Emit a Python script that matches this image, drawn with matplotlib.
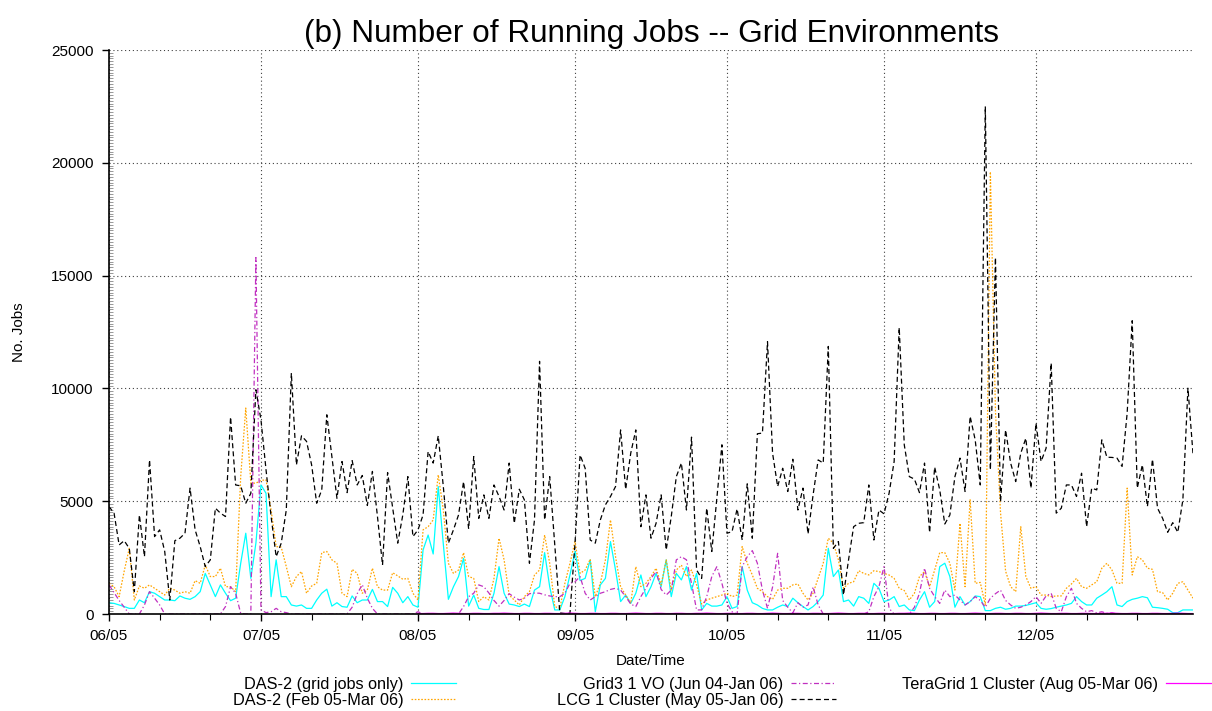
import pandas as pd
import matplotlib
matplotlib.use('Agg')
import matplotlib.pyplot as plt
import matplotlib.dates as mdates
from matplotlib.ticker import MultipleLocator

plt.rcParams['font.family'] = ['Liberation Sans', 'DejaVu Sans']

# daily number of running jobs, one value per day from 2005-06-01
start = '2005-06-01'

das2_grid = [
    500, 470, 400, 330, 250, 250, 620, 500, 990, 920, 770, 620, 620, 590, 800, 700, 650, 770, 990, 1800,
    1290, 770, 1290, 920, 590, 700, 2250, 3580, 1580, 3140, 5720, 5350, 770, 2400, 770, 770, 400, 350, 400, 250,
    250, 620, 920, 1100,
    350, 500, 330, 300, 800, 500, 620, 620, 1090, 550, 550, 330, 1180, 920, 500, 770, 400, 300, 2840, 3500,
    2660, 5650, 3100, 650, 1210, 1660, 2470, 350, 840, 250, 200, 200, 920, 2100, 920, 440, 400, 330, 440, 330,
    1060, 1210,
    2720, 1210, 180, 180, 770, 1730, 2770, 1480, 1580, 2400, 100, 1290, 1580, 3210, 1950, 550, 840, 470, 920, 1730,
    770, 1210, 1800, 1210, 2400, 770, 1800, 1510, 2100, 1060, 1800, 180, 470, 350, 350, 400, 770, 250, 330, 2100,
    1060, 500, 400,
    250, 180, 180, 300, 400, 330, 700, 500, 330, 180, 330, 550, 840, 2910, 1660, 1950, 550, 620, 350, 770,
    700, 470, 1360, 1140, 550, 620, 770, 330, 400, 180, 150, 620, 990, 300, 550, 2100, 2250, 1660, 300, 770,
    400, 550, 800,
    770, 150, 150, 250, 300, 210, 250, 350, 350, 380, 440, 500, 250, 210, 240, 300, 350, 400, 470, 770,
    550, 400, 400, 700, 840, 990, 1210, 400, 330, 550, 650, 700, 770, 720, 300, 280, 250, 210, 60, 60,
    180, 180, 180,
]

das2_all = [
    1360, 1210, 770, 1900, 2910, 620, 1240, 1140, 1290, 1140, 990, 840, 1140, 1060, 920, 990, 920, 1480, 1360, 2170,
    1660, 1660, 2030, 1210, 1210, 990, 6090, 9130, 5800, 5800, 5920, 5950, 4610, 2990, 2960, 2100, 1210, 1660, 1880, 920,
    1240, 1360, 2720,
    2770, 2400, 2250, 920, 770, 1980, 1800, 920, 1060, 2030, 1210, 1060, 1060, 1830, 1690, 1540, 1580, 920, 620, 3730,
    3870, 4170, 6170, 4610, 2250, 1800, 1950, 2720, 1660, 1580, 550, 770, 620, 1580, 3360, 2400, 840, 620, 400, 770,
    990, 1730, 1950,
    3500, 2250, 330, 250, 1360, 2250, 3210, 1800, 1950, 2430, 770, 1360, 2400, 4170, 2540, 1210, 840, 470, 2100, 1210,
    1360, 1660, 2030, 1290, 2400, 1060, 1950, 2170, 1660, 1950, 1290, 440, 620, 700, 770, 840, 920, 770, 840, 2990,
    2250, 1730, 1140,
    990, 770, 650, 1060, 1140, 1140, 1290, 1330, 920, 620, 920, 1580, 2250, 3360, 3140, 2400, 1140, 1360, 1430, 1920,
    1800, 1730, 1920, 1880, 1800, 1730, 1580, 1140, 1040, 620, 920, 1660, 1880, 1210, 1950, 2720, 2720, 2250, 1060, 4020,
    1210, 5060, 1360,
    1400, 400, 19600, 9000, 4500, 1900, 1210, 990, 3870, 1660, 1140, 1210, 840, 840, 770, 800, 800, 1140, 1330, 1580,
    1210, 1140, 1290, 1430, 2030, 2250, 1950, 1360, 1360, 5580, 1730, 2540, 2400, 2030, 1980, 990, 950, 620, 920, 1360,
    1430, 1060, 700,
]

grid3 = [
    1290, 950, 600, 300, 0, 0, 0, 400, 990, 700, 400, 0, 0, 0, 0, 0, 0, 0, 0, 0,
    0, 0, 0, 330, 1210, 920, 30, 0, 0, 15800, 180, 60, 100, 250, 100, 60, 0, 0, 0, 0,
    0, 0, 0,
    0, 0, 0, 0, 0, 300, 900, 1300, 700, 250, 0, 0, 0, 0, 0, 0, 0, 0, 100, 0,
    0, 0, 0, 0, 0, 0, 0, 330, 770, 920, 1290, 1210, 930, 600, 350, 600, 900, 750, 620, 700,
    900, 930, 920,
    850, 800, 770, 770, 920, 1360, 1430, 1660, 920, 620, 770, 920, 990, 1090, 1140, 1060, 770, 440, 330, 770,
    1140, 1580, 1880, 1090, 840, 1060, 2400, 2540, 2400, 1360, 180, 180, 770, 1660, 2100, 1360, 470, 100, 0, 2100,
    2540, 2810, 2250,
    1060, 250, 1200, 2690, 600, 300, 50, 500, 300, 400, 1200, 400, 0, 0, 0, 0, 0, 0, 0, 0,
    0, 100, 770, 1210, 2100, 250, 0, 0, 0, 0, 300, 920, 2030, 1140, 770, 470, 1060, 770, 840, 620,
    400, 550, 770,
    600, 300, 700, 900, 1060, 600, 400, 250, 300, 400, 550, 770, 470, 800, 920, 250, 100, 770, 1140, 470,
    250, 100, 150, 50, 100, 30, 50, 0, 0, 0, 0, 0, 0, 0, 0, 0, 0, 0, 0, 0,
    0, 0, 0,
]

lcg = [
    4760, 4470, 3060, 3250, 2910, 990, 4390, 2540, 6830, 3430, 3730, 2770, 620, 3250, 3360, 3580, 5580, 3730, 2990, 2100,
    2400, 4690, 4470, 4320, 8730, 5720, 5680, 4910, 5350, 9940, 8610, 6390, 4320, 2540, 3140, 4610, 10680, 6610, 7900, 7650,
    6610, 4910, 5500, 8830,
    7000, 5130, 6760, 5380, 6800, 5720, 6140, 4810, 6320, 4320, 2170, 6270, 4690, 3140, 4390, 6090, 3430, 3730, 4390, 7200,
    6690, 7900, 5650, 3140, 3730, 4390, 5870, 3770, 6980, 4240, 5280, 4240, 5720, 5210, 4610, 6690, 4020, 5530, 5060, 2250,
    4170, 11200,
    4170, 6090, 3100, 50, 20, 30, 3140, 7050, 6460, 3280, 3140, 4170, 4840, 5210, 5650, 8160, 5530, 7130, 8160, 3870,
    5280, 3360, 4020, 5280, 2840, 4320, 6090, 6690, 4610, 7840, 1950, 1580, 4690, 2770, 5130, 7500, 3580, 3650, 4660, 3280,
    5770, 3360, 7990,
    8020, 12070, 7130, 5650, 6460, 5430, 6860, 4610, 5580, 3550, 5280, 6830, 6690, 11860, 2910, 3210, 840, 2400, 3870, 4020,
    4050, 5720, 3280, 4610, 4440, 5350, 6760, 12700, 7500, 6090, 5980, 5380, 6690, 3610, 6510, 5500, 3990, 4390, 6090, 6910,
    5430, 8760, 7720,
    5720, 22500, 6390, 15800, 4980, 8160, 6690, 5870, 7130, 7790, 5580, 8460, 6760, 7350, 11120, 4470, 4690, 5720, 5720, 5210,
    6240, 3870, 5580, 5500, 7720, 6950, 6940, 6910, 6540, 8900, 13000, 5580, 6610, 4760, 6860, 4690, 4240, 3620, 4050, 3620,
    5060, 10010, 7100,
]

# TeraGrid starts in August
tg_start = '2005-08-01'
teragrid = [
    20, 20, 30, 30, 20, 20, 30, 40, 30, 20, 20, 30, 30, 20, 20, 30, 30, 40, 30, 20,
    20, 30, 30, 20, 20, 30, 30, 20, 20, 30, 40, 30, 20, 20, 30, 30, 20, 20, 30, 30,
    20, 20, 30, 40, 30, 20, 20, 30, 30, 20, 20, 30, 30, 20, 20, 30, 30, 40, 30, 20,
    20, 30, 30, 20, 20, 30, 30, 20, 20, 30, 40, 30, 20, 20, 30, 30, 20, 20, 30, 30,
    20, 20, 30, 40, 30, 20, 20, 30, 30, 20, 20, 30, 30, 20, 20, 30, 30, 40, 30, 20,
    20, 30, 30, 20, 20, 30, 30, 20, 20, 30, 40, 30, 20, 20, 30, 30, 20, 20, 30, 30,
    20, 20, 30, 40, 30, 20, 20, 30, 30, 20, 20, 30, 30, 20, 20, 30, 30, 40, 30, 20,
    20, 30, 30, 20, 20, 30, 30, 20, 20, 30, 40, 30, 20, 20,
]

labels = ['DAS-2 (grid jobs only)', 'DAS-2 (Feb 05-Mar 06)', 'Grid3 1 VO (Jun 04-Jan 06)',
          'LCG 1 Cluster (May 05-Jan 06)', 'TeraGrid 1 Cluster (Aug 05-Mar 06)']
month_ticks = pd.date_range('2005-06-01', '2005-12-01', freq='MS')

days = pd.date_range(start, periods=len(lcg), freq='D')
tg_days = pd.date_range(tg_start, periods=len(teragrid), freq='D')

W, H = 1212, 711
fig = plt.figure(figsize=(W / 100, H / 100), dpi=100)
ax = fig.add_axes([109 / W, 1 - 614 / H, (1193 - 109) / W, (614 - 50) / H])

lw = 0.9
l1, = ax.plot(days, das2_grid, color='#00ffff', lw=lw, ls='-')
l2, = ax.plot(days, das2_all, color='#ffa500', lw=lw, ls=(0, (1.3, 1.3)))
l3, = ax.plot(days, grid3, color='#c030c0', lw=lw, ls=(0, (4, 2, 1, 2)))
l4, = ax.plot(days, lcg, color='black', lw=lw, ls=(0, (4, 2.5)))
l5, = ax.plot(tg_days, teragrid, color='#ff00ff', lw=lw, ls='-')

ax.set_xlim(pd.Timestamp('2005-06-01'), pd.Timestamp('2006-01-01'))
ax.set_ylim(0, 25000)
ax.set_xticks(month_ticks)
ax.xaxis.set_major_formatter(mdates.DateFormatter('%m/%y'))
ax.xaxis.set_minor_locator(mdates.DayLocator(bymonthday=[11, 21]))
ax.yaxis.set_major_locator(MultipleLocator(5000))
ax.yaxis.set_minor_locator(MultipleLocator(125))

for s in ['top', 'right']:
    ax.spines[s].set_visible(False)
for s in ['left', 'bottom']:
    ax.spines[s].set_linewidth(1.2)

ax.grid(True, which='major', color='#404040', lw=0.8, ls=(0, (1, 2.5)))
ax.tick_params(axis='both', which='major', direction='out', length=5, width=1, labelsize=11, pad=6)
ax.tick_params(axis='x', which='minor', direction='out', length=4, width=0.8)
ax.tick_params(axis='y', which='minor', direction='in', length=3, width=0.5, color='#707070')

ax.set_title('(b) Number of Running Jobs -- Grid Environments', fontsize=22.7, pad=6)
ax.set_ylabel('No. Jobs', fontsize=11, labelpad=18)
ax.set_xlabel('Date/Time', fontsize=11, labelpad=8)

# gnuplot-style key: text right aligned, sample on the right, three columns
leg_kw = dict(loc='upper right', frameon=False, markerfirst=False, fontsize=11.7,
              handlelength=2.8, handletextpad=0.45, labelspacing=0.06,
              borderpad=0, borderaxespad=0)
fig.legend([l1, l2], labels[:2], bbox_to_anchor=(456 / W, 1 - 677 / H), **leg_kw)
fig.legend([l3, l4], labels[2:4], bbox_to_anchor=(836 / W, 1 - 677 / H), **leg_kw)
fig.legend([l5], labels[4:], bbox_to_anchor=(1211 / W, 1 - 677 / H), **leg_kw)

fig.savefig('out.png', dpi=100)
